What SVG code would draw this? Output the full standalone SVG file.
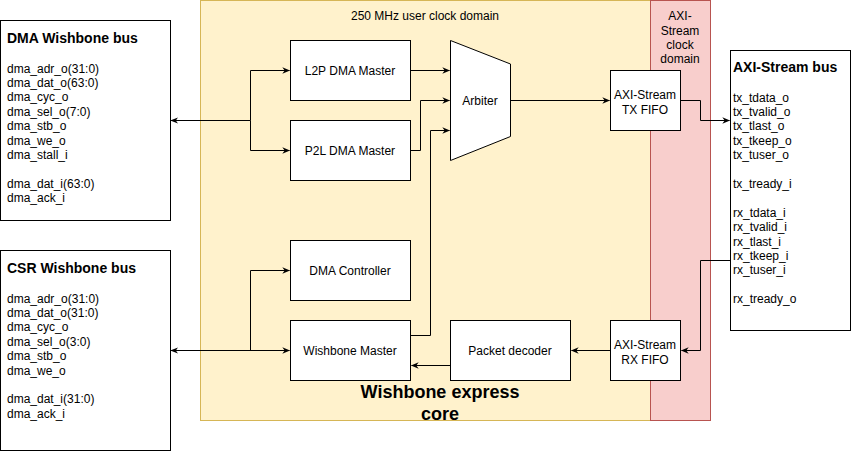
<svg xmlns="http://www.w3.org/2000/svg" width="851" height="451" viewBox="0 0 851 451">
<style>
text{font-family:"Liberation Sans",Arial,sans-serif;font-size:12px;fill:#000}
.c{text-anchor:middle}
.b{font-weight:bold}
.box{fill:#fff;stroke:#000;stroke-width:1}
.w{fill:none;stroke:#000;stroke-width:1}
</style>
<defs>
<marker id="ah" viewBox="0 0 10 10" refX="9" refY="5" markerWidth="8" markerHeight="8" markerUnits="userSpaceOnUse" orient="auto-start-reverse">
<path d="M0,1 L10,5 L0,9 L3,5 Z" fill="#000"/>
</marker>
</defs>
<g id="domain-user">
<rect x="200.5" y="0.5" width="450" height="420" fill="#fff2cc" stroke="#d6b656"/>
<text class="c" x="425" y="20">250 MHz user clock domain</text>
<text class="c b" x="440" y="398" style="font-size:18px">Wishbone express</text>
<text class="c b" x="440" y="419.5" style="font-size:18px">core</text>
</g>
<g id="domain-axi">
<rect x="650.5" y="0.5" width="60" height="420" fill="#f8cecc" stroke="#b85450"/>
<text class="c" x="680" y="20">AXI-</text>
<text class="c" x="680" y="34.5">Stream</text>
<text class="c" x="680" y="48.5">clock</text>
<text class="c" x="680" y="62.5">domain</text>
</g>
<g id="dma-bus">
<rect class="box" x="0.5" y="20.5" width="170" height="200"/>
<text class="b" x="7" y="42.5" style="font-size:14px">DMA Wishbone bus</text>
<text x="7" y="72.5">dma_adr_o(31:0)</text>
<text x="7" y="86.9">dma_dat_o(63:0)</text>
<text x="7" y="101.3">dma_cyc_o</text>
<text x="7" y="115.7">dma_sel_o(7:0)</text>
<text x="7" y="130.1">dma_stb_o</text>
<text x="7" y="144.5">dma_we_o</text>
<text x="7" y="158.9">dma_stall_i</text>
<text x="7" y="187.7">dma_dat_i(63:0)</text>
<text x="7" y="202.1">dma_ack_i</text>
</g>
<g id="csr-bus">
<rect class="box" x="0.5" y="250.5" width="170" height="200"/>
<text class="b" x="7" y="272.5" style="font-size:14px">CSR Wishbone bus</text>
<text x="7" y="302.5">dma_adr_o(31:0)</text>
<text x="7" y="316.9">dma_dat_o(31:0)</text>
<text x="7" y="331.3">dma_cyc_o</text>
<text x="7" y="345.7">dma_sel_o(3:0)</text>
<text x="7" y="360.1">dma_stb_o</text>
<text x="7" y="374.5">dma_we_o</text>
<text x="7" y="403.3">dma_dat_i(31:0)</text>
<text x="7" y="417.7">dma_ack_i</text>
</g>
<g id="axi-bus">
<rect class="box" x="730.5" y="50.5" width="120" height="280"/>
<text class="b" x="733" y="71.5" style="font-size:14px">AXI-Stream bus</text>
<text x="733" y="101.5">tx_tdata_o</text>
<text x="733" y="115.9">tx_tvalid_o</text>
<text x="733" y="130.3">tx_tlast_o</text>
<text x="733" y="144.7">tx_tkeep_o</text>
<text x="733" y="159.1">tx_tuser_o</text>
<text x="733" y="187.9">tx_tready_i</text>
<text x="733" y="216.7">rx_tdata_i</text>
<text x="733" y="231.1">rx_tvalid_i</text>
<text x="733" y="245.5">rx_tlast_i</text>
<text x="733" y="259.9">rx_tkeep_i</text>
<text x="733" y="274.3">rx_tuser_i</text>
<text x="733" y="303.1">rx_tready_o</text>
</g>
<g id="l2p">
<rect class="box" x="290.5" y="40.5" width="120" height="60"/>
<text class="c" x="350" y="75">L2P DMA Master</text>
</g>
<g id="p2l">
<rect class="box" x="290.5" y="120.5" width="120" height="60"/>
<text class="c" x="350" y="155">P2L DMA Master</text>
</g>
<g id="arbiter">
<path class="box" d="M450.5,40.5 L510.5,64 L510.5,136.5 L450.5,160.5 Z"/>
<text class="c" x="480" y="105">Arbiter</text>
</g>
<g id="tx-fifo">
<rect class="box" x="610.5" y="70.5" width="70" height="60"/>
<text class="c" x="645" y="99">AXI-Stream</text>
<text class="c" x="645" y="113.5">TX FIFO</text>
</g>
<g id="dma-ctrl">
<rect class="box" x="290.5" y="240.5" width="120" height="60"/>
<text class="c" x="350" y="275">DMA Controller</text>
</g>
<g id="wb-master">
<rect class="box" x="290.5" y="320.5" width="120" height="60"/>
<text class="c" x="350" y="355">Wishbone Master</text>
</g>
<g id="pkt-dec">
<rect class="box" x="450.5" y="320.5" width="120" height="60"/>
<text class="c" x="510" y="355">Packet decoder</text>
</g>
<g id="rx-fifo">
<rect class="box" x="610.5" y="320.5" width="70" height="60"/>
<text class="c" x="645" y="349">AXI-Stream</text>
<text class="c" x="645" y="363.5">RX FIFO</text>
</g>
<g id="connectors">
<path class="w" d="M250.5,120.5 L171,120.5" marker-end="url(#ah)"/>
<path class="w" d="M250.5,120.5 L250.5,70.5 L289.5,70.5" marker-end="url(#ah)"/>
<path class="w" d="M250.5,120.5 L250.5,150.5 L289.5,150.5" marker-end="url(#ah)"/>
<path class="w" d="M410.5,70.5 L449.5,70.5" marker-end="url(#ah)"/>
<path class="w" d="M410.5,150.5 L420.5,150.5 L420.5,100.5 L449.5,100.5" marker-end="url(#ah)"/>
<path class="w" d="M410.5,335.5 L430.5,335.5 L430.5,130.5 L449.5,130.5" marker-end="url(#ah)"/>
<path class="w" d="M510.5,100.5 L609.5,100.5" marker-end="url(#ah)"/>
<path class="w" d="M680.5,100.5 L700.5,100.5 L700.5,120.5 L729.5,120.5" marker-end="url(#ah)"/>
<path class="w" d="M730.5,260.5 L700.5,260.5 L700.5,350.5 L681.5,350.5" marker-end="url(#ah)"/>
<path class="w" d="M610.5,350.5 L571.5,350.5" marker-end="url(#ah)"/>
<path class="w" d="M450.5,365.5 L411.5,365.5" marker-end="url(#ah)"/>
<path class="w" d="M171,350.5 L289.5,350.5" marker-start="url(#ah)" marker-end="url(#ah)"/>
<path class="w" d="M250.5,350.5 L250.5,270.5 L289.5,270.5" marker-end="url(#ah)"/>
</g>
</svg>
